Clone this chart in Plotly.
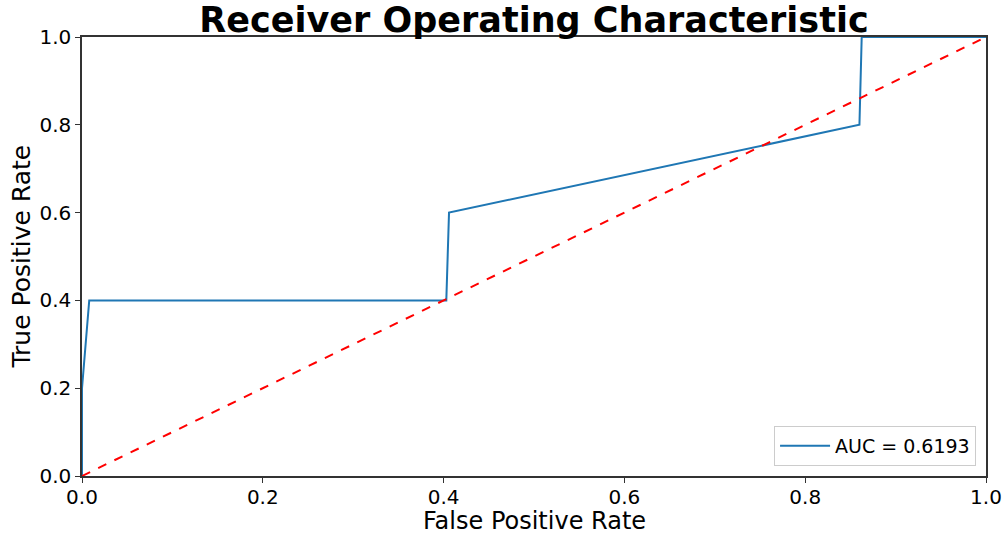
import plotly.graph_objects as go

fpr = [0.0, 0.0, 0.008, 0.403, 0.406, 0.860, 0.8625, 1.0]
tpr = [0.0, 0.2, 0.4, 0.4, 0.6, 0.8, 1.0, 1.0]
diag_x = [0.0, 1.0]
diag_y = [0.0, 1.0]
auc_label = "AUC = 0.6193"
tick_vals = [0.0, 0.2, 0.4, 0.6, 0.8, 1.0]
tick_text = ["0.0", "0.2", "0.4", "0.6", "0.8", "1.0"]

fig = go.Figure()
fig.add_trace(go.Scatter(x=fpr, y=tpr, mode="lines", name=auc_label,
                         line=dict(color="#1f77b4", width=2)))
fig.add_trace(go.Scatter(x=diag_x, y=diag_y, mode="lines", showlegend=False,
                         line=dict(color="red", width=2, dash="dash")))

font = "DejaVu Sans"
axis_common = dict(range=[0, 1], tickvals=tick_vals, ticktext=tick_text,
                   showgrid=False, zeroline=False, showline=True, linecolor="#333333",
                   linewidth=1.5, mirror=True, ticks="outside", ticklen=5,
                   tickcolor="#333333", tickfont=dict(size=20), automargin=False)
fig.update_layout(
    width=1005, height=535,
    margin=dict(l=82, r=19, t=37, b=59),
    paper_bgcolor="white", plot_bgcolor="white",
    font=dict(family=font, color="black", size=20),
    title=dict(text="<b>Receiver Operating Characteristic</b>", xref="paper", x=0.5,
               xanchor="center", yref="container", y=0.986, yanchor="top",
               pad=dict(t=0),
               font=dict(family=font, size=35, color="black")),
    legend=dict(x=0.989, y=0.023, xanchor="right", yanchor="bottom",
                bgcolor="white", bordercolor="#cccccc", borderwidth=1,
                itemwidth=50,
                font=dict(family=font, size=19)),
    xaxis=dict(axis_common, ticklabelstandoff=-3),
    yaxis=axis_common,
)
fig.add_annotation(text="False Positive Rate", xref="paper", yref="paper", x=0.5, y=0,
                   xanchor="center", yanchor="middle", yshift=-45, showarrow=False,
                   font=dict(family=font, size=24, color="black"))
fig.add_annotation(text="True Positive Rate", xref="paper", yref="paper", x=0, y=0.5,
                   xanchor="center", yanchor="middle", xshift=-61, textangle=-90,
                   showarrow=False, font=dict(family=font, size=25, color="black"))
fig.write_html("out.html", config={"displayModeBar": False},
               post_script="document.body.style.margin='0';")
